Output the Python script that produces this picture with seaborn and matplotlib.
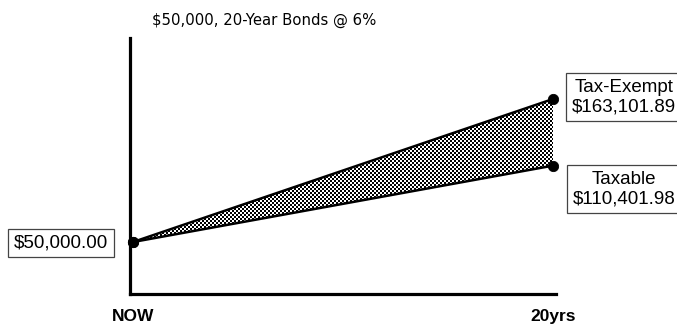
import numpy as np
import pandas as pd
import matplotlib
matplotlib.use("Agg")
import matplotlib.pyplot as plt
import seaborn as sns

# Growth of a $50,000 bond investment over 20 years at 6%
years = [0, 20]
tick_labels = ["NOW", "20yrs"]
tax_exempt = [50000.00, 163101.89]
taxable = [50000.00, 110401.98]
series_names = ["Tax-Exempt", "Taxable"]
title = "$50,000, 20-Year Bonds @ 6%"

df = pd.DataFrame({
    "year": years * 2,
    "value": tax_exempt + taxable,
    "series": [series_names[0]] * len(years) + [series_names[1]] * len(years),
})

sns.set_theme(style="white")
plt.rcParams["font.family"] = ["Liberation Sans", "DejaVu Sans"]
plt.rcParams["text.color"] = "black"
plt.rcParams["xtick.color"] = "black"

fig = plt.figure(figsize=(6.77, 3.26), dpi=100)
ax = fig.add_axes([130 / 677, 1 - 294 / 326, 426 / 677, 256 / 326])

sns.lineplot(data=df, x="year", y="value", hue="series",
             palette=["black", "black"], linewidth=1.8, legend=False, ax=ax)
pts = sns.scatterplot(data=df, x="year", y="value", color="black", s=55,
                      edgecolor="black", zorder=5, legend=False, ax=ax)
for coll in ax.collections:
    coll.set_clip_on(False)

ax.set_xlim(-0.143, 20.143)
ax.set_ylim(8870, 211370)

# Checkerboard shading between the two growth lines
band = ax.fill_between(years, taxable, tax_exempt, facecolor="none", edgecolor="none")
ny, nx = 128, 213
checker = (np.indices((ny, nx)).sum(axis=0) % 2).astype(float)
x0, x1 = ax.get_xlim()
y0, y1 = ax.get_ylim()
im = ax.imshow(checker, cmap="gray", vmin=0, vmax=1.0, extent=[x0, x1, y0, y1],
               origin="lower", aspect="auto", interpolation="nearest", zorder=1)
im.set_clip_path(band.get_paths()[0], transform=ax.transData)
ax.set_xlim(x0, x1)
ax.set_ylim(y0, y1)

for side in ["top", "right"]:
    ax.spines[side].set_visible(False)
for side in ["left", "bottom"]:
    ax.spines[side].set_color("black")
    ax.spines[side].set_linewidth(2.3)

ax.set_yticks([])
ax.set_xticks(years)
ax.set_xticklabels(tick_labels, fontsize=12.5, fontweight="bold")
ax.tick_params(axis="x", length=0, pad=11)
ax.set_xlabel("")
ax.set_ylabel("")

box = dict(boxstyle="square,pad=0.3", facecolor="white", edgecolor="#444444", linewidth=0.9)
fig.text(61 / 677, 1 - 243 / 326, f"${taxable[0]:,.2f}", ha="center", va="center",
         fontsize=13.5, bbox=box)
fig.text(624 / 677, 1 - 97 / 326, f"{series_names[0]}\n${tax_exempt[1]:,.2f}",
         ha="center", va="center", fontsize=13.5, linespacing=1.2, bbox=box)
fig.text(624 / 677, 1 - 189 / 326, f"{series_names[1]}\n${taxable[1]:,.2f}",
         ha="center", va="center", fontsize=13.5, linespacing=1.2, bbox=box)

fig.text(264 / 677, 1 - 20 / 326, title, ha="center", va="center",
         fontsize=10.7, family=["DejaVu Sans"])

fig.savefig("out.png", dpi=100)
